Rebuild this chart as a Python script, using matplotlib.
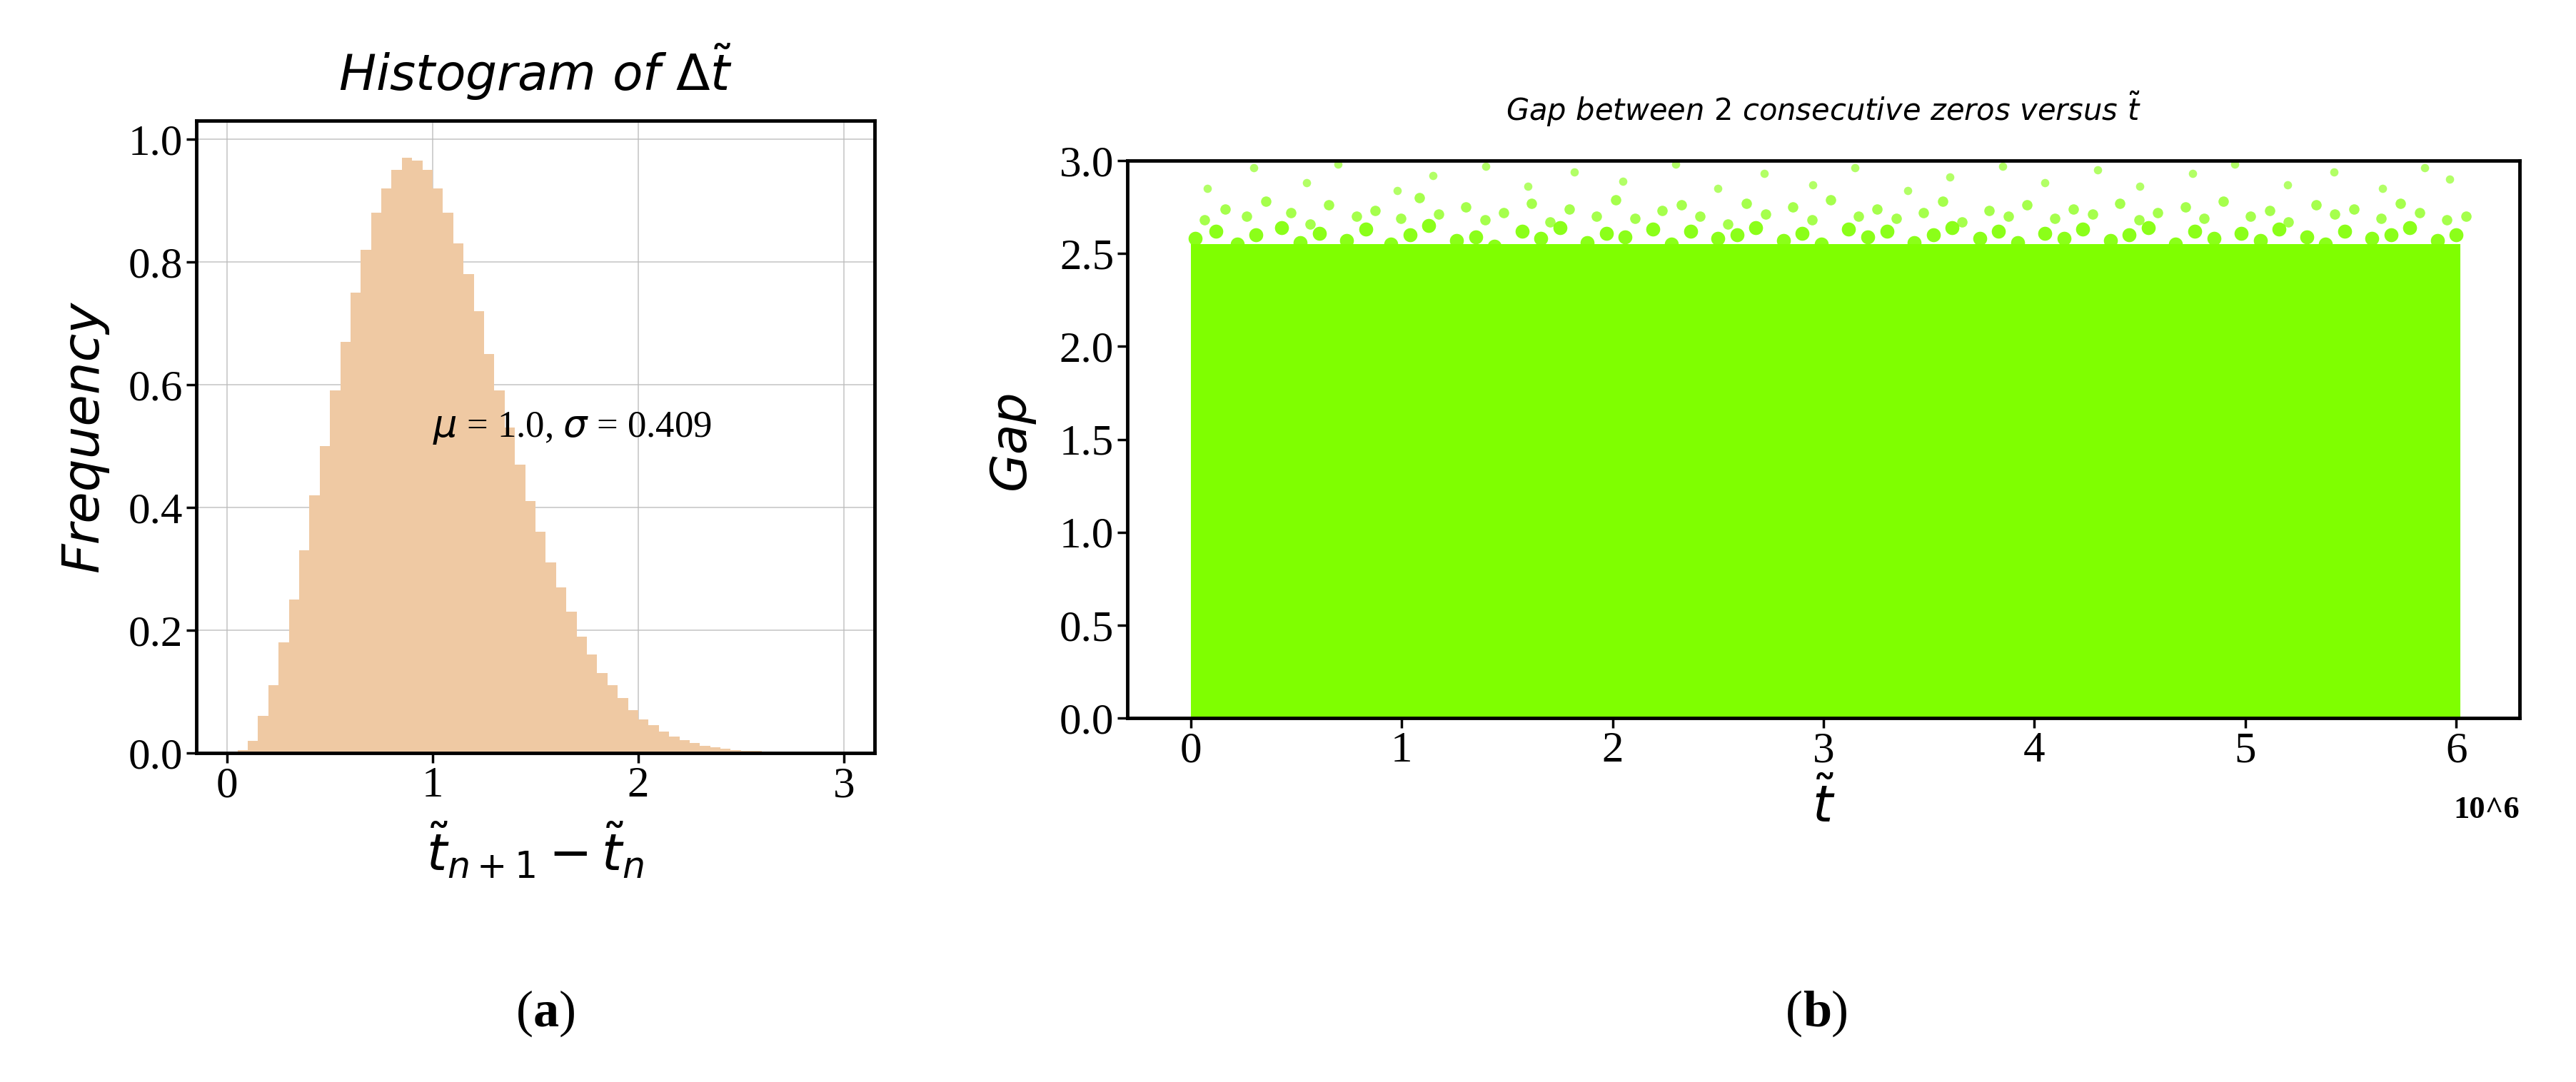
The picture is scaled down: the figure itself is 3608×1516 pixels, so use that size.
import numpy as np
import matplotlib
matplotlib.use("Agg")
import matplotlib.pyplot as plt

# ---- data ----
bin_edges = np.round(np.arange(0, 3.0001, 0.05), 3)
hist_heights = [0.0, 0.005, 0.02, 0.06, 0.11, 0.18, 0.25, 0.33, 0.42, 0.5,
                0.59, 0.67, 0.75, 0.82, 0.88, 0.92, 0.95, 0.97, 0.965, 0.95,
                0.92, 0.88, 0.83, 0.78, 0.72, 0.65, 0.59, 0.53, 0.47, 0.41,
                0.36, 0.31, 0.27, 0.23, 0.19, 0.16, 0.13, 0.11, 0.09, 0.07,
                0.055, 0.045, 0.035, 0.027, 0.021, 0.016, 0.012, 0.009, 0.007, 0.005,
                0.004, 0.003, 0.002, 0.001, 0.0, 0.0, 0.0, 0.0, 0.0, 0.0]
hist_ticks_x = [0, 1, 2, 3]
hist_ticks_y = [0.0, 0.2, 0.4, 0.6, 0.8, 1.0]

band_x = [0.0, 6.02]
band_top = [2.55, 2.55]
fringe_x = [0.02, 0.12, 0.22, 0.31, 0.43, 0.52, 0.61, 0.74, 0.83, 0.95, 1.04, 1.13, 1.26, 1.35,
            1.44, 1.57, 1.66, 1.75, 1.88, 1.97, 2.06, 2.19, 2.28, 2.37, 2.5, 2.59, 2.68, 2.81,
            2.9, 2.99, 3.12, 3.21, 3.3, 3.43, 3.52, 3.61, 3.74, 3.83, 3.92, 4.05, 4.14, 4.23,
            4.36, 4.45, 4.54, 4.67, 4.76, 4.85, 4.98, 5.07, 5.16, 5.29, 5.38, 5.47, 5.6, 5.69,
            5.78, 5.91, 6.0]
fringe_y1 = [2.58, 2.62, 2.55, 2.6, 2.64, 2.56, 2.61, 2.57, 2.63, 2.55, 2.6, 2.65, 2.57,
             2.59, 2.54, 2.62, 2.58, 2.64, 2.56, 2.61, 2.59, 2.63, 2.55, 2.62, 2.58, 2.6,
             2.64, 2.57, 2.61, 2.55, 2.63, 2.59, 2.62, 2.56, 2.6, 2.64, 2.58, 2.62, 2.56,
             2.61, 2.58, 2.63, 2.57, 2.6, 2.64, 2.55, 2.62, 2.58, 2.61, 2.57, 2.63, 2.59,
             2.55, 2.62, 2.58, 2.6, 2.64, 2.57, 2.6]
fringe_y2 = [2.68, 2.74, 2.7, 2.78, 2.72, 2.66, 2.76, 2.7, 2.73, 2.69, 2.8, 2.71, 2.75,
             2.68, 2.72, 2.77, 2.67, 2.74, 2.7, 2.79, 2.69, 2.73, 2.76, 2.7, 2.66, 2.77,
             2.71, 2.75, 2.68, 2.79, 2.7, 2.74, 2.69, 2.72, 2.78, 2.67, 2.73, 2.7, 2.76,
             2.69, 2.74, 2.71, 2.77, 2.68, 2.72, 2.75, 2.69, 2.78, 2.7, 2.73, 2.67, 2.76,
             2.71, 2.74, 2.69, 2.77, 2.72, 2.68, 2.7]
fringe_x3 = [0.08, 0.3, 0.55, 0.7, 0.98, 1.15, 1.4, 1.6, 1.82, 2.05, 2.3, 2.5, 2.72, 2.95,
             3.15, 3.4, 3.6, 3.85, 4.05, 4.3, 4.5, 4.75, 4.95, 5.2, 5.42, 5.65, 5.85, 5.97]
fringe_y3 = [2.85, 2.96, 2.88, 2.98, 2.84, 2.92, 2.97, 2.86, 2.94, 2.89, 2.98, 2.85, 2.93,
             2.87, 2.96, 2.84, 2.91, 2.97, 2.88, 2.95, 2.86, 2.93, 2.98, 2.87, 2.94, 2.85,
             2.96, 2.9]
scatter_ticks_x = [0, 1, 2, 3, 4, 5, 6]
scatter_ticks_y = [0.0, 0.5, 1.0, 1.5, 2.0, 2.5, 3.0]

W, H = 3608, 1516
fig = plt.figure(figsize=(W / 100, H / 100), dpi=100)
serif = "Liberation Serif"
sans = "DejaVu Sans"

# ---- left ----
ax1 = fig.add_axes([275 / W, 1 - 1055 / H, (1225 - 275) / W, (1055 - 169) / H])
ax1.bar(bin_edges[:-1], hist_heights, width=0.05, align="edge", color="#efc9a3", linewidth=0)
ax1.set_xlim(-0.15, 3.15)
ax1.set_ylim(0, 1.03)
ax1.set_xticks(hist_ticks_x)
ax1.set_yticks(hist_ticks_y)
ax1.grid(True, color="#bbbbbb", linewidth=1.2, alpha=0.8)
ax1.set_axisbelow(True)
for s in ax1.spines.values():
    s.set_linewidth(3.5)
ax1.tick_params(width=2.5, length=10, labelsize=44)
for lab in ax1.get_xticklabels() + ax1.get_yticklabels():
    lab.set_fontfamily(serif)
ax1.set_title(r"$\mathit{Histogram\ of\ }\Delta\tilde{t}$", fontsize=50, pad=30)
ax1.set_ylabel("Frequency", fontsize=52, style="italic", fontfamily=sans, labelpad=20)
ax1.set_xlabel(r"$\tilde{t}_{n+1}-\tilde{t}_n$", fontsize=52, labelpad=15)
ax1.text(1.0, 0.5, r"$\mu$ = 1.0, $\sigma$ = 0.409", fontsize=38, fontfamily=serif, va="bottom")

# ---- right ----
ax2 = fig.add_axes([1579 / W, 1 - 1006 / H, (3529 - 1579) / W, (1006 - 225) / H])
green = "#7fff00"
ax2.fill_between(band_x, 0, band_top, color=green, linewidth=0)
ax2.scatter(fringe_x, fringe_y1, s=200, color=green, alpha=0.9, linewidths=0)
ax2.scatter([x + 0.045 for x in fringe_x], fringe_y2, s=110, color=green, alpha=0.7, linewidths=0)
ax2.scatter(fringe_x3, fringe_y3, s=70, color=green, alpha=0.6, linewidths=0)
ax2.set_xlim(-0.3, 6.3)
ax2.set_ylim(0, 3.0)
ax2.set_xticks(scatter_ticks_x)
ax2.set_yticks(scatter_ticks_y)
for s in ax2.spines.values():
    s.set_linewidth(3.5)
ax2.tick_params(width=2.5, length=10, labelsize=44)
for lab in ax2.get_xticklabels() + ax2.get_yticklabels():
    lab.set_fontfamily(serif)
ax2.set_title(r"$\mathit{Gap\ between\ 2\ consecutive\ zeros\ versus\ }\tilde{t}$", fontsize=30, pad=40)
ax2.set_ylabel("Gap", fontsize=50, style="italic", fontfamily=sans, labelpad=25)
ax2.set_xlabel(r"$\tilde{t}$", fontsize=52, labelpad=10)
ax2.text(1.0, -0.14, "10^6", transform=ax2.transAxes, fontsize=32, fontweight="bold",
         fontfamily=serif, ha="right", va="top")

# panel labels: "(" + bold letter + ")"
fig.canvas.draw()
r = fig.canvas.get_renderer()
for cx, letter in [(765, "a"), (2545, "b")]:
    y = 1 - 1420 / H
    t1 = fig.text(0, y, "(", fontsize=52, fontfamily=serif, va="center")
    t2 = fig.text(0, y, letter, fontsize=52, fontfamily=serif, fontweight="bold", va="center")
    t3 = fig.text(0, y, ")", fontsize=52, fontfamily=serif, va="center")
    w1 = t1.get_window_extent(r).width
    w2 = t2.get_window_extent(r).width
    w3 = t3.get_window_extent(r).width
    x0 = cx - (w1 + w2 + w3) / 2
    t1.set_x(x0 / W)
    t2.set_x((x0 + w1) / W)
    t3.set_x((x0 + w1 + w2) / W)

fig.savefig("out.png", dpi=100)
